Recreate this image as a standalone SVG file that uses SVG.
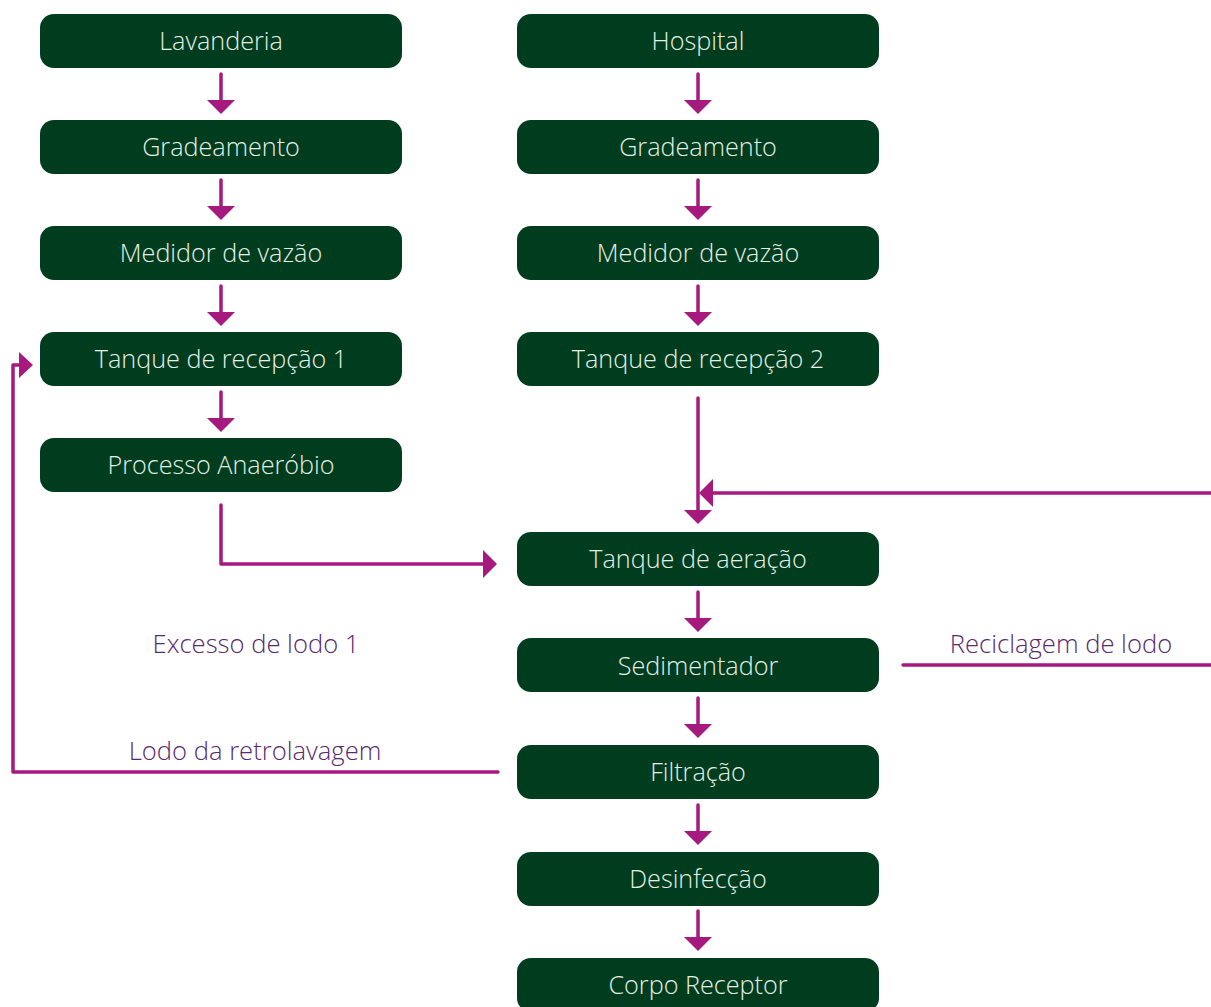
<svg xmlns="http://www.w3.org/2000/svg" width="1211" height="1007" viewBox="0 0 1211 1007">
<defs>
<style>
.n rect{fill:#003d1e}
.n text{fill:#e6efe6;font-family:"Open Sans","Liberation Sans",sans-serif;font-size:25.2px;font-weight:300;text-anchor:middle}
.c path{fill:none;stroke:#a6197f;stroke-width:3.5;stroke-linecap:round;stroke-linejoin:round}
.c polygon{fill:#a6197f}
.l{fill:#5a2a70;font-family:"Open Sans","Liberation Sans",sans-serif;font-size:25.6px;font-weight:300;text-anchor:middle}
</style>
</defs>
<rect width="1211" height="1007" fill="#ffffff"/>
<g id="lavanderia" class="n"><rect x="40" y="14" width="362" height="54" rx="14"/><text x="221" y="50">Lavanderia</text></g>
<g id="grade1" class="n"><rect x="40" y="120" width="362" height="54" rx="14"/><text x="221" y="156">Gradeamento</text></g>
<g id="medidor1" class="n"><rect x="40" y="226" width="362" height="54" rx="14"/><text x="221" y="262">Medidor de vazão</text></g>
<g id="tanque1" class="n"><rect x="40" y="332" width="362" height="54" rx="14"/><text x="221" y="368">Tanque de recepção 1</text></g>
<g id="anaerobio" class="n"><rect x="40" y="438" width="362" height="54" rx="14"/><text x="221" y="474">Processo Anaeróbio</text></g>
<g id="hospital" class="n"><rect x="517" y="14" width="362" height="54" rx="14"/><text x="698" y="50">Hospital</text></g>
<g id="grade2" class="n"><rect x="517" y="120" width="362" height="54" rx="14"/><text x="698" y="156">Gradeamento</text></g>
<g id="medidor2" class="n"><rect x="517" y="226" width="362" height="54" rx="14"/><text x="698" y="262">Medidor de vazão</text></g>
<g id="tanque2" class="n"><rect x="517" y="332" width="362" height="54" rx="14"/><text x="698" y="368">Tanque de recepção 2</text></g>
<g id="aeracao" class="n"><rect x="517" y="532" width="362" height="54" rx="14"/><text x="698" y="568">Tanque de aeração</text></g>
<g id="sedimentador" class="n"><rect x="517" y="638" width="362" height="54" rx="14"/><text x="698" y="675">Sedimentador</text></g>
<g id="filtracao" class="n"><rect x="517" y="745" width="362" height="54" rx="14"/><text x="698" y="781">Filtração</text></g>
<g id="desinfeccao" class="n"><rect x="517" y="852" width="362" height="54" rx="14"/><text x="698" y="888">Desinfecção</text></g>
<g id="corpo" class="n"><rect x="517" y="958" width="362" height="54" rx="14"/><text x="698" y="994">Corpo Receptor</text></g>
<g id="connectors" class="c">
<path d="M221 74V100"/><polygon points="207,100 235,100 221,114"/>
<path d="M221 180V206"/><polygon points="207,206 235,206 221,220"/>
<path d="M221 286V312"/><polygon points="207,312 235,312 221,326"/>
<path d="M221 392V418"/><polygon points="207,418 235,418 221,432"/>
<path d="M698 74V100"/><polygon points="684,100 712,100 698,114"/>
<path d="M698 180V206"/><polygon points="684,206 712,206 698,220"/>
<path d="M698 286V312"/><polygon points="684,312 712,312 698,326"/>
<path d="M698 398V510"/><polygon points="684,510 712,510 698,524"/>
<path d="M1211 493H712"/><polygon points="713,479 713,507 699,493"/>
<path d="M221 505V564H483"/><polygon points="483,550 483,578 497,564"/>
<path d="M698 592V618"/><polygon points="684,618 712,618 698,632"/>
<path d="M698 698V724"/><polygon points="684,724 712,724 698,738"/>
<path d="M698 805V831"/><polygon points="684,831 712,831 698,845"/>
<path d="M698 911V937"/><polygon points="684,937 712,937 698,951"/>
<path d="M498 772H13V365H20"/><polygon points="19,352 19,378 33,365"/>
<path d="M903 665H1211"/>
</g>
<text class="l" x="256" y="653">Excesso de lodo 1</text>
<text class="l" x="255" y="760">Lodo da retrolavagem</text>
<text class="l" x="1061" y="653">Reciclagem de lodo</text>
</svg>
